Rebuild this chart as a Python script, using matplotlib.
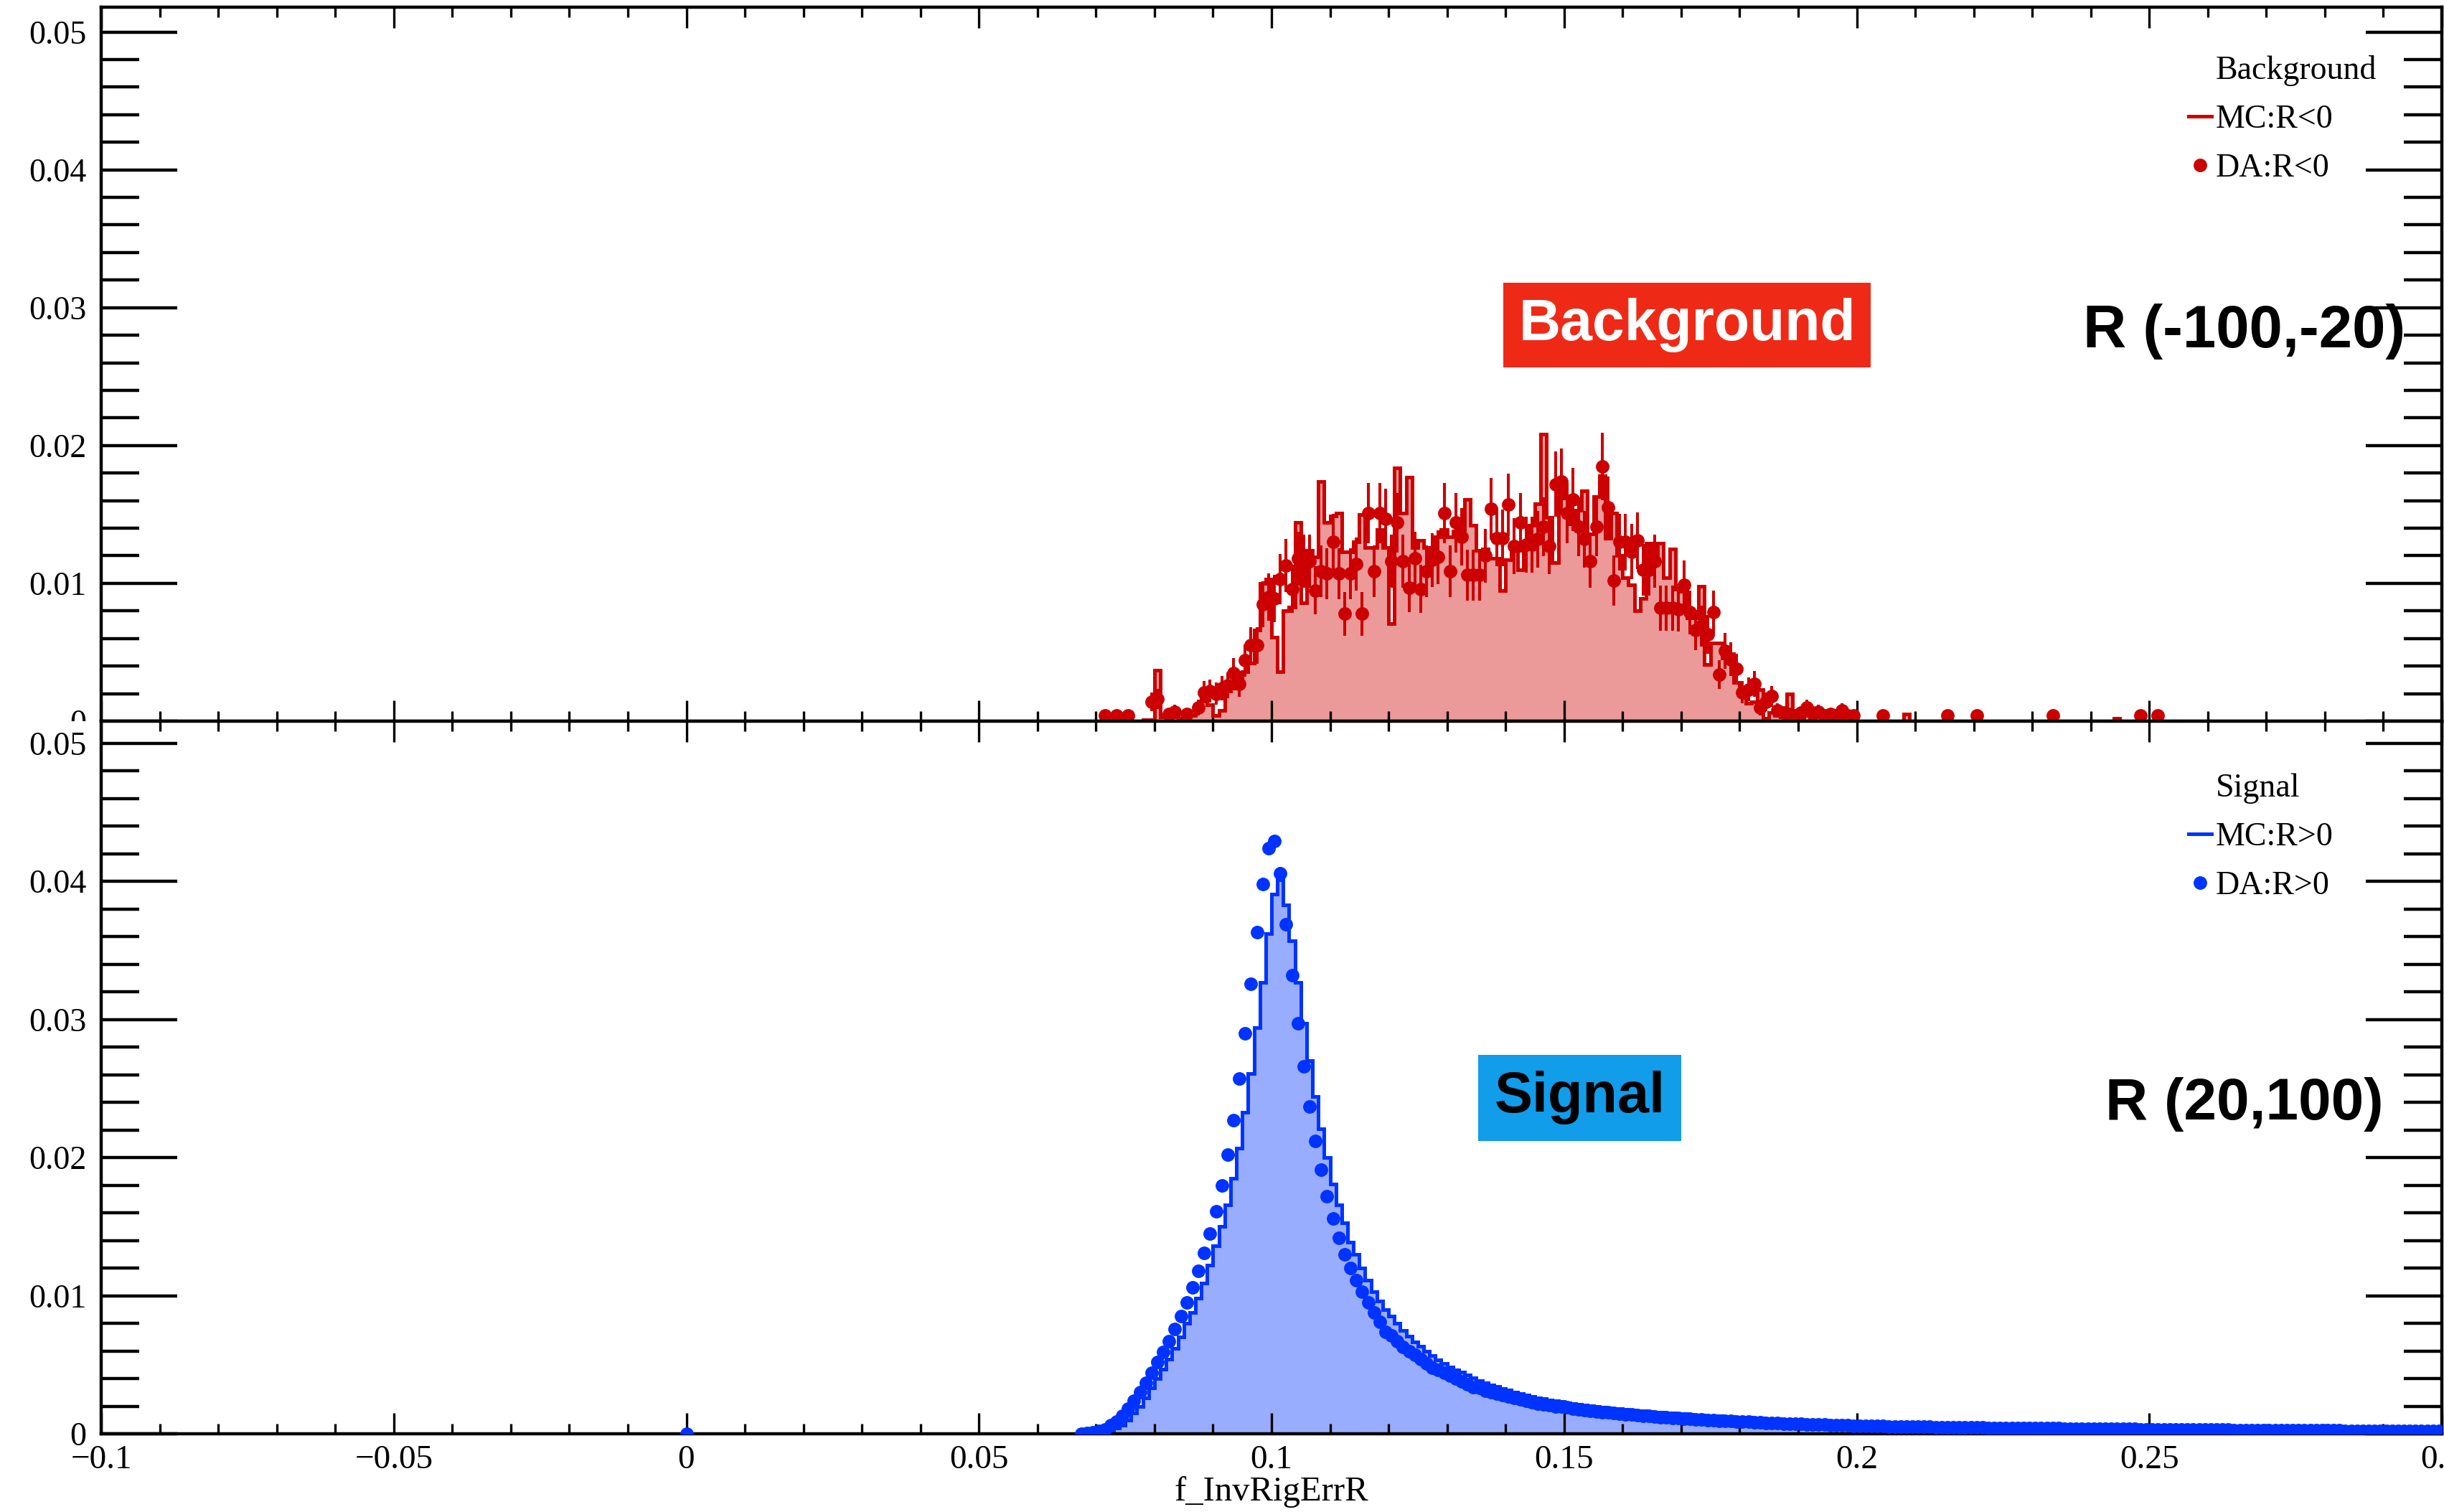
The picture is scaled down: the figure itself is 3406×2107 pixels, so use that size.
import numpy as np
import matplotlib
matplotlib.use("Agg")
import matplotlib.pyplot as plt
from matplotlib.lines import Line2D
from matplotlib.patches import Rectangle
from matplotlib.ticker import MultipleLocator, FuncFormatter

plt.rcParams["font.family"] = ["Liberation Serif", "DejaVu Serif"]

BIN_W = 0.001
X_MIN, X_MAX = -0.1, 0.3

# ---- R in (-100,-20): background sample -------------------------------
# MC histogram, normalised contents, bins of 0.001 starting at 0.070
BKG_MC_START = 0.070
bkg_mc = [
    0, 0, 0, 0, 0, 0, 0, 0, 0.0001, 0.0001,
    0.0037, 0.0003, 0.0002, 0.0003, 0.0002, 0.0003, 0.0004, 0.0010, 0.0020, 0.0012,
    0.0004, 0.0008, 0.0022, 0.0024, 0.0030, 0.0036, 0.0042, 0.0066, 0.0100, 0.0103,
    0.0061, 0.0036, 0.0080, 0.0083, 0.0144, 0.0086, 0.0124, 0.0119, 0.0174, 0.0144,
    0.0149, 0.0151, 0.0123, 0.0123, 0.0130, 0.0150, 0.0126, 0.0126, 0.0139, 0.0126,
    0.0071, 0.0184, 0.0151, 0.0177, 0.0126, 0.0131, 0.0126, 0.0119, 0.0134, 0.0139,
    0.0134, 0.0138, 0.0139, 0.0161, 0.0142, 0.0124, 0.0125, 0.0118, 0.0118, 0.0095,
    0.0117, 0.0125, 0.0110, 0.0130, 0.0142, 0.0158, 0.0208, 0.0148, 0.0115, 0.0176,
    0.0162, 0.0143, 0.0153, 0.0167, 0.0136, 0.0163, 0.0178, 0.0133, 0.0151, 0.0120,
    0.0104, 0.0099, 0.0080, 0.0089, 0.0129, 0.0117, 0.0129, 0.0104, 0.0125, 0.0096,
    0.0094, 0.0075, 0.0075, 0.0098, 0.0041, 0.0057, 0.0057, 0.0046, 0.0049, 0.0028,
    0.0024, 0.0013, 0.0014, 0.0023, 0.0002, 0.0006, 0.0004, 0.0003, 0.0020, 0.0003,
    0.0002, 0.0004, 0.0002, 0.0003, 0, 0.0002, 0, 0.0002, 0, 0,
    0, 0, 0, 0, 0, 0, 0, 0, 0.0005, 0,
    0, 0, 0, 0, 0, 0, 0, 0, 0, 0,
    0, 0, 0, 0, 0, 0, 0, 0, 0, 0,
    0, 0, 0, 0, 0, 0, 0, 0, 0, 0,
    0, 0, 0, 0, 0.0002, 0, 0, 0, 0, 0,
]
# data, filled bins only (bin centre, normalised content)
bkg_da_x = [
    0.0715, 0.0735, 0.0755, 0.0795, 0.0805, 0.0825, 0.0835, 0.0855, 0.0875, 0.0885,
    0.0895, 0.0905, 0.0915, 0.0925, 0.0935, 0.0945, 0.0955, 0.0965, 0.0975, 0.0985,
    0.0995, 0.1005, 0.1015, 0.1025, 0.1035, 0.1045, 0.1055, 0.1065, 0.1075, 0.1085,
    0.1095, 0.1105, 0.1115, 0.1125, 0.1135, 0.1145, 0.1155, 0.1165, 0.1175, 0.1185,
    0.1195, 0.1205, 0.1215, 0.1225, 0.1235, 0.1245, 0.1255, 0.1265, 0.1275, 0.1285,
    0.1295, 0.1305, 0.1315, 0.1325, 0.1335, 0.1345, 0.1355, 0.1365, 0.1375, 0.1385,
    0.1395, 0.1405, 0.1415, 0.1425, 0.1435, 0.1445, 0.1455, 0.1465, 0.1475, 0.1485,
    0.1495, 0.1505, 0.1515, 0.1525, 0.1535, 0.1545, 0.1555, 0.1565, 0.1575, 0.1585,
    0.1595, 0.1605, 0.1615, 0.1625, 0.1635, 0.1645, 0.1655, 0.1665, 0.1675, 0.1685,
    0.1695, 0.1705, 0.1715, 0.1725, 0.1735, 0.1745, 0.1755, 0.1765, 0.1775, 0.1785,
    0.1795, 0.1805, 0.1815, 0.1825, 0.1835, 0.1845, 0.1855, 0.1865, 0.1875, 0.1885,
    0.1895, 0.1905, 0.1915, 0.1925, 0.1935, 0.1945, 0.1955, 0.1965, 0.1975, 0.1985,
    0.1995, 0.2045, 0.2155, 0.2205, 0.2335, 0.2485, 0.2515,
]
bkg_da_y = [
    0.0004, 0.0004, 0.0004, 0.0014, 0.0016, 0.0005, 0.0007, 0.0005, 0.0010, 0.0021,
    0.0022, 0.0020, 0.0024, 0.0026, 0.0035, 0.0027, 0.0044, 0.0055, 0.0055, 0.0085,
    0.0090, 0.0089, 0.0103, 0.0113, 0.0096, 0.0118, 0.0116, 0.0116, 0.0095, 0.0109,
    0.0107, 0.0130, 0.0107, 0.0078, 0.0107, 0.0114, 0.0078, 0.0151, 0.0109, 0.0151,
    0.0147, 0.0116, 0.0144, 0.0116, 0.0097, 0.0118, 0.0096, 0.0109, 0.0117, 0.0119,
    0.0151, 0.0109, 0.0144, 0.0134, 0.0106, 0.0106, 0.0106, 0.0120, 0.0154, 0.0133,
    0.0133, 0.0157, 0.0127, 0.0144, 0.0128, 0.0128, 0.0132, 0.0141, 0.0127, 0.0172,
    0.0174, 0.0151, 0.0161, 0.0141, 0.0132, 0.0116, 0.0141, 0.0185, 0.0155, 0.0102,
    0.0130, 0.0130, 0.0123, 0.0131, 0.0110, 0.0110, 0.0116, 0.0082, 0.0082, 0.0082,
    0.0081, 0.0099, 0.0079, 0.0066, 0.0069, 0.0063, 0.0079, 0.0034, 0.0051, 0.0045,
    0.0038, 0.0021, 0.0023, 0.0027, 0.0010, 0.0014, 0.0018, 0.0008, 0.0006, 0.0005,
    0.0004, 0.0006, 0.0010, 0.0006, 0.0007, 0.0004, 0.0005, 0.0004, 0.0008, 0.0004,
    0.0004, 0.0004, 0.0004, 0.0004, 0.0004, 0.0004, 0.0004,
]
BKG_EVENTS = 3100

# ---- R in (20,100): signal sample --------------------------------------
SIG_MC_START = 0.067
sig_mc = [
    0.0, 0.0, 0.00002,
    0.00005, 0.0001, 0.0002, 0.0004, 0.0006, 0.0010, 0.0015, 0.0020, 0.0026, 0.0033,
    0.0040, 0.0047, 0.0054, 0.0062, 0.0070, 0.0080, 0.0088, 0.0098, 0.0109, 0.0122,
    0.0136, 0.0150, 0.0166, 0.0185, 0.0207, 0.0233, 0.0261, 0.0294, 0.0327, 0.0362,
    0.0391, 0.0401, 0.0383, 0.0357, 0.0327, 0.0297, 0.0270, 0.0244, 0.0221, 0.0200,
    0.0181, 0.0166, 0.0153, 0.0139, 0.0130, 0.0120, 0.0111, 0.0103, 0.0096, 0.0090,
    0.0085, 0.0080, 0.0075, 0.00705, 0.00667, 0.00632, 0.00598, 0.00567, 0.00537, 0.00509,
    0.00483, 0.00463, 0.00445, 0.00425, 0.00405, 0.00386, 0.00371, 0.00355, 0.00341, 0.00327,
    0.00315, 0.00301, 0.00290, 0.00280, 0.00271, 0.00262, 0.00254, 0.00246, 0.00239, 0.00232,
    0.00226, 0.00220, 0.00214, 0.00208, 0.00203, 0.00198, 0.00193, 0.00188, 0.00184, 0.00180,
    0.00176, 0.00172, 0.00168, 0.00164, 0.00161, 0.00158, 0.00155, 0.00152, 0.00149, 0.00146,
    0.00143, 0.00140, 0.00137, 0.00135, 0.00132, 0.00130, 0.00128, 0.00125, 0.00123, 0.00121,
    0.00119, 0.00117, 0.00115, 0.00113, 0.00111, 0.00109, 0.00107, 0.00106, 0.00104, 0.00102,
    0.00101, 0.00099, 0.00098, 0.00096, 0.00095, 0.00093, 0.00092, 0.00091, 0.00089, 0.00088,
    0.00087, 0.00086, 0.00085, 0.00084, 0.00083, 0.00082, 0.00081, 0.00080, 0.00079, 0.00078,
    0.00077, 0.00076, 0.00075, 0.00075, 0.00074, 0.00073, 0.00072, 0.00071, 0.00071, 0.00070,
    0.00069, 0.00068, 0.00068, 0.00067, 0.00066, 0.00066, 0.00065, 0.00064, 0.00064, 0.00063,
    0.00062, 0.00062, 0.00061, 0.00061, 0.00060, 0.00059, 0.00059, 0.00058, 0.00058, 0.00057,
    0.00057, 0.00056, 0.00056, 0.00055, 0.00055, 0.00054, 0.00054, 0.00053, 0.00053, 0.00052,
    0.00052, 0.00052, 0.00051, 0.00051, 0.00050, 0.00050, 0.00050, 0.00049, 0.00049, 0.00048,
    0.00048, 0.00048, 0.00047, 0.00047, 0.00047, 0.00046, 0.00046, 0.00046, 0.00045, 0.00045,
    0.00045, 0.00045, 0.00044, 0.00044, 0.00044, 0.00043, 0.00043, 0.00043, 0.00043, 0.00042,
    0.00042, 0.00042, 0.00042, 0.00041, 0.00041, 0.00041, 0.00041, 0.00040, 0.00040, 0.00040,
    0.00040, 0.00040, 0.00039, 0.00039, 0.00039, 0.00039, 0.00038, 0.00038, 0.00038, 0.00038,
]
# data points, consecutive bins from the bin centred at 0.0675
SIG_DA_FIRST = 0.0675
sig_da = [
    0.0, 0.00005, 0.0001,
    0.0002, 0.0003, 0.0006, 0.0009, 0.0013, 0.0018, 0.0024, 0.0030, 0.0037, 0.0044,
    0.0052, 0.0059, 0.0067, 0.0076, 0.0085, 0.0095, 0.0106, 0.0118, 0.0131, 0.0145,
    0.0161, 0.0180, 0.0202, 0.0227, 0.0257, 0.0290, 0.0326, 0.0363, 0.0398, 0.0424,
    0.0429, 0.0406, 0.0369, 0.0332, 0.0297, 0.0266, 0.0237, 0.0212, 0.0191, 0.0172,
    0.0156, 0.0142, 0.0130, 0.0120, 0.0111, 0.0103, 0.0095, 0.0088, 0.0081, 0.0074,
    0.0071, 0.0067, 0.0063, 0.0060, 0.0057, 0.0054, 0.0051, 0.0048, 0.0046, 0.0044,
    0.0042, 0.0040, 0.0038, 0.0036, 0.0034, 0.0033, 0.0031, 0.0030, 0.0029, 0.0028,
    0.0027, 0.0026, 0.0025, 0.0024, 0.0023, 0.0022, 0.00215, 0.0021, 0.0020, 0.00195,
    0.0019, 0.00184, 0.00178, 0.00173, 0.00168, 0.00163, 0.00158, 0.00154, 0.00150, 0.00146,
    0.00142, 0.00138, 0.00134, 0.00131, 0.00128, 0.00125, 0.00122, 0.00119, 0.00116, 0.00113,
    0.00110, 0.00108, 0.00105, 0.00103, 0.00100, 0.00098, 0.00096, 0.00094, 0.00092, 0.00090,
    0.00088, 0.00086, 0.00084, 0.00082, 0.00080, 0.00079, 0.00077, 0.00075, 0.00074, 0.00072,
    0.00071, 0.00069, 0.00068, 0.00066, 0.00065, 0.00064, 0.00062, 0.00061, 0.00060, 0.00059,
    0.00058, 0.00057, 0.00056, 0.00056, 0.00055, 0.00054, 0.00054, 0.00053, 0.00052, 0.00052,
    0.00051, 0.00050, 0.00050, 0.00049, 0.00049, 0.00048, 0.00047, 0.00047, 0.00046, 0.00046,
    0.00045, 0.00045, 0.00044, 0.00044, 0.00043, 0.00043, 0.00042, 0.00042, 0.00041, 0.00041,
    0.00040, 0.00040, 0.00039, 0.00039, 0.00039, 0.00038, 0.00038, 0.00037, 0.00037, 0.00037,
    0.00036, 0.00036, 0.00035, 0.00035, 0.00035, 0.00034, 0.00034, 0.00034, 0.00033, 0.00033,
    0.00033, 0.00032, 0.00032, 0.00032, 0.00031, 0.00031, 0.00031, 0.00030, 0.00030, 0.00030,
    0.00029, 0.00029, 0.00029, 0.00029, 0.00028, 0.00028, 0.00028, 0.00027, 0.00027, 0.00027,
    0.00027, 0.00026, 0.00026, 0.00026, 0.00026, 0.00025, 0.00025, 0.00025, 0.00025, 0.00024,
    0.00024, 0.00024, 0.00024, 0.00023, 0.00023, 0.00023, 0.00023, 0.00023, 0.00022, 0.00022,
    0.00022, 0.00022, 0.00022, 0.00021, 0.00021, 0.00021, 0.00021, 0.00021, 0.00020, 0.00020,
]
sig_da_extra_x = [0.0]
sig_da_extra_y = [0.0]
SIG_EVENTS = 200000

RED, RED_FILL = "#cc0000", "#eb9999"
BLUE, BLUE_FILL = "#0033ff", "#99adff"

W, H, DPI = 3406, 2107, 200


def px_rect(x0, y0, x1, y1):
    return [x0 / W, 1 - y1 / H, (x1 - x0) / W, (y1 - y0) / H]


def full_range(start, values):
    # pad a partial histogram with empty bins over the whole x range
    nbins = int(round((X_MAX - X_MIN) / BIN_W))
    edges = X_MIN + BIN_W * np.arange(nbins + 1)
    full = np.zeros(nbins)
    i0 = int(round((start - X_MIN) / BIN_W))
    full[i0:i0 + len(values)] = values
    return edges, full


def tick_fmt(v, _):
    return f"{round(v, 4) + 0.0:g}".replace("-", "\u2212")


def style_axes(ax, ymax):
    ax.set_xlim(X_MIN, X_MAX)
    ax.set_ylim(0, ymax)
    ax.xaxis.set_major_locator(MultipleLocator(0.05))
    ax.xaxis.set_minor_locator(MultipleLocator(0.01))
    ax.yaxis.set_major_locator(MultipleLocator(0.01))
    ax.yaxis.set_minor_locator(MultipleLocator(0.002))
    ax.xaxis.set_major_formatter(FuncFormatter(tick_fmt))
    ax.yaxis.set_major_formatter(FuncFormatter(tick_fmt))
    ax.tick_params(which="both", direction="in", top=True, right=True)
    ax.tick_params(axis="x", which="major", length=10.4, width=1.2, labelsize=17, pad=5.4)
    ax.tick_params(axis="x", which="minor", length=5.0, width=1.2)
    ax.tick_params(axis="y", which="major", length=38, width=1.6, labelsize=16.5, pad=7.5)
    ax.tick_params(axis="y", which="minor", length=19, width=1.6)
    for s in ax.spines.values():
        s.set_linewidth(1.6)


def draw_panel(ax, mc_start, mc, da_x, da_y, n_events, line_c, fill_c):
    edges, full = full_range(mc_start, mc)
    ax.stairs(full, edges, fill=True, color=fill_c, lw=0, zorder=1)
    ax.stairs(full, edges, color=line_c, lw=1.8, zorder=2)
    da_y = np.asarray(da_y)
    err = np.sqrt(da_y / n_events)
    ax.errorbar(da_x, da_y, yerr=err, fmt="o", ms=6.8, mew=0, color=line_c,
                elinewidth=1.45, capsize=0, zorder=3)


def add_legend(ax, header, mc_label, da_label, color, top_px):
    handles = [
        Line2D([], [], ls="none"),
        Line2D([], [], color=color, lw=1.8),
        Line2D([], [], ls="none", marker="o", ms=6.8, mew=0, color=color),
    ]
    ax.legend(handles, [header, mc_label, da_label], loc="upper left",
              bbox_to_anchor=(3050 / W, 1 - top_px / H), bbox_transform=fig.transFigure,
              frameon=False, borderpad=0, borderaxespad=0, handlelength=0.7,
              handletextpad=0.13, labelspacing=0.56, prop={"size": 16.5})


fig = plt.figure(figsize=(W / DPI, H / DPI), dpi=DPI)
ax_top = fig.add_axes(px_rect(141, 10, 3403, 1005))
ax_bot = fig.add_axes(px_rect(141, 1005, 3403, 1998))
ax_top.set_zorder(0)
ax_bot.set_zorder(2)
# lower pad hides whatever of the upper pad's labels spills below its edge
fig.add_artist(Rectangle((0, 0), 141 / W, 1 - 1005 / H, transform=fig.transFigure,
                         fc="white", ec="none", zorder=1))

style_axes(ax_top, 0.0518)
style_axes(ax_bot, 0.0516)
ax_top.tick_params(axis="x", labelbottom=False)

draw_panel(ax_top, BKG_MC_START, bkg_mc, bkg_da_x, bkg_da_y, BKG_EVENTS, RED, RED_FILL)

sig_da_x = SIG_DA_FIRST + BIN_W * np.arange(len(sig_da))
draw_panel(ax_bot, SIG_MC_START, sig_mc,
           np.concatenate([sig_da_extra_x, sig_da_x]),
           np.concatenate([sig_da_extra_y, sig_da]),
           SIG_EVENTS, BLUE, BLUE_FILL)

add_legend(ax_top, "Background", "MC:R<0", "DA:R<0", RED, 77)
add_legend(ax_bot, "Signal", "MC:R>0", "DA:R>0", BLUE, 1077)

ax_bot.set_xlabel("f_InvRigErrR", fontsize=17.5, labelpad=0.5)

sans = ["Liberation Sans", "DejaVu Sans"]
ax_top.text(0.6775, 0.5548, "Background", transform=ax_top.transAxes, ha="center", va="center",
            family=sans, fontsize=29, weight="bold", color="white",
            bbox=dict(boxstyle="square,pad=0.26", fc="#ee2a17", ec="none"))
ax_top.text(0.9157, 0.5460, "R (-100,-20)", transform=ax_top.transAxes, ha="center", va="center",
            family=sans, fontsize=30, weight="bold", color="black")
ax_bot.text(0.6317, 0.4713, "Signal", transform=ax_bot.transAxes, ha="center", va="center",
            family=sans, fontsize=28.6, weight="bold", color="black",
            bbox=dict(boxstyle="square,pad=0.28", fc="#119de9", ec="none"))
ax_bot.text(0.9155, 0.4620, "R (20,100)", transform=ax_bot.transAxes, ha="center", va="center",
            family=sans, fontsize=29.5, weight="bold", color="black")

fig.savefig("out.png", dpi=DPI)
